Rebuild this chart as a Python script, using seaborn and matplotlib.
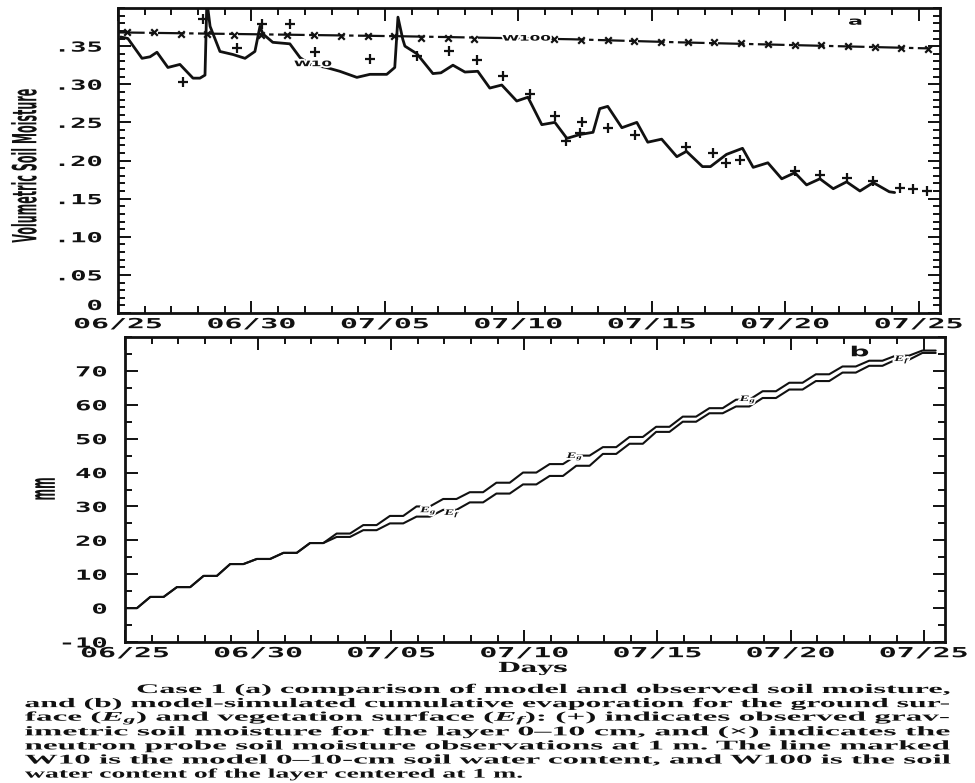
import matplotlib
matplotlib.use("Agg")
import matplotlib.pyplot as plt
import seaborn as sns
from matplotlib.patheffects import AbstractPathEffect
from matplotlib.transforms import Affine2D
from matplotlib.ticker import MultipleLocator

# ---------------- data ----------------
date_ticks = [0, 5, 10, 15, 20, 25, 30]
date_labels = ["06/25", "06/30", "07/05", "07/10", "07/15", "07/20", "07/25"]
sm_ticks = [0.0, 0.05, 0.10, 0.15, 0.20, 0.25, 0.30, 0.35]
sm_labels = ["0", ".05", ".10", ".15", ".20", ".25", ".30", ".35"]
mm_ticks = [-10, 0, 10, 20, 30, 40, 50, 60, 70]
mm_labels = ["-10", "0", "10", "20", "30", "40", "50", "60", "70"]

# model W10 (0-10 cm) volumetric soil moisture
w10_day = [0.1, 0.37, 0.9, 1.2, 1.46, 1.87, 2.32, 2.81, 3.07, 3.26, 3.33, 3.45, 3.82, 4.31, 4.76,
           5.13, 5.32, 5.43, 5.8, 6.44, 6.82, 7.2, 7.8, 8.31, 8.95, 9.44, 10.07, 10.37, 10.49, 10.67,
           10.75, 11.2, 11.8, 12.1, 12.55, 13.0, 13.48, 13.93, 14.38, 14.94, 15.36, 15.88, 16.37, 16.82, 17.3,
           17.8, 18.05, 18.35, 18.88, 19.44, 19.85, 20.37, 20.94, 21.3, 21.9, 22.2, 22.8, 23.4, 23.8, 24.35,
           24.87, 25.36, 25.8, 26.3, 26.8, 27.3, 27.8, 28.3, 28.9, 29.1]
w10_val = [0.362, 0.360, 0.334, 0.336, 0.342, 0.322, 0.326, 0.308, 0.308, 0.312, 0.410, 0.376, 0.343, 0.339, 0.334,
           0.343, 0.376, 0.366, 0.355, 0.353, 0.335, 0.326, 0.322, 0.317, 0.309, 0.313, 0.313, 0.322, 0.388, 0.359,
           0.350, 0.340, 0.314, 0.315, 0.325, 0.316, 0.317, 0.295, 0.299, 0.278, 0.283, 0.247, 0.250, 0.229, 0.234,
           0.237, 0.268, 0.271, 0.243, 0.250, 0.224, 0.228, 0.205, 0.212, 0.192, 0.192, 0.208, 0.216, 0.191, 0.197,
           0.176, 0.184, 0.168, 0.176, 0.163, 0.172, 0.160, 0.171, 0.159, 0.158]

# model W100 (layer at 1 m)
w100_day = [0.0, 10.5, 17.0, 21.0, 30.4]
w100_val = [0.368, 0.363, 0.359, 0.355, 0.347]

# observed gravimetric 0-10 cm (+)
obs10_day = [2.43, 3.18, 4.46, 5.39, 6.44, 7.38, 9.44, 11.2, 12.4, 13.45, 14.42, 15.43, 16.37, 16.8, 17.3,
             17.38, 18.35, 19.36, 21.3, 22.3, 22.8, 23.3, 25.36, 26.3, 27.3, 28.3, 29.3, 29.8, 30.3]
obs10_val = [0.303, 0.386, 0.347, 0.379, 0.379, 0.342, 0.333, 0.337, 0.343, 0.332, 0.311, 0.287, 0.258, 0.225, 0.236,
             0.250, 0.242, 0.233, 0.218, 0.210, 0.197, 0.201, 0.186, 0.181, 0.177, 0.173, 0.164, 0.162, 0.160]

# neutron probe at 1 m (x)
obs100_day = [0.35, 1.35, 2.35, 3.35, 4.35, 5.35, 6.35, 7.35, 8.35, 9.35, 10.35, 11.35, 12.35, 13.35,
              16.35, 17.35, 18.35, 19.35, 20.35, 21.35, 22.35, 23.35, 24.35, 25.35, 26.35, 27.35, 28.35, 29.35, 30.35]
obs100_val = [0.368, 0.368, 0.366, 0.366, 0.364, 0.364, 0.364, 0.364, 0.363, 0.363, 0.363, 0.361, 0.361, 0.360,
              0.359, 0.358, 0.358, 0.357, 0.356, 0.356, 0.355, 0.354, 0.353, 0.352, 0.351, 0.350, 0.349, 0.347, 0.346]

# cumulative evaporation (mm)
evap_day = [0.0, 0.45, 0.95, 1.45, 1.95, 2.45, 2.95, 3.45, 3.95, 4.45, 4.95, 5.45, 5.95, 6.45, 6.95, 7.45,
            7.95, 8.45, 8.95, 9.45, 9.95, 10.45, 10.95, 11.45, 11.95, 12.45, 12.95, 13.45, 13.95, 14.45,
            14.95, 15.45, 15.95, 16.45, 16.95, 17.45, 17.95, 18.45, 18.95, 19.45, 19.95, 20.45, 20.95,
            21.45, 21.95, 22.45, 22.95, 23.45, 23.95, 24.45, 24.95, 25.45, 25.95, 26.45, 26.95, 27.45,
            27.95, 28.45, 28.95, 29.45, 29.95, 30.45]
eg_val = [0.0, 0.0, 3.3, 3.3, 6.2, 6.2, 9.5, 9.5, 13.0, 13.0, 14.5, 14.5, 16.3, 16.3, 19.2, 19.2, 22.0, 22.0,
          24.5, 24.5, 27.2, 27.2, 30.0, 30.0, 32.2, 32.2, 34.2, 34.2, 37.0, 37.0, 40.0, 40.0, 42.5, 42.5,
          45.0, 45.0, 47.5, 47.5, 50.5, 50.5, 53.5, 53.5, 56.5, 56.5, 59.0, 59.0, 61.5, 61.5, 64.0, 64.0,
          66.5, 66.5, 69.0, 69.0, 71.3, 71.3, 73.0, 73.0, 74.5, 74.5, 76.0, 76.0]
ef_val = [0.0, 0.0, 3.3, 3.3, 6.2, 6.2, 9.5, 9.5, 13.0, 13.0, 14.5, 14.5, 16.3, 16.3, 19.2, 19.2, 21.0, 21.0,
          23.0, 23.0, 25.0, 25.0, 27.0, 27.0, 29.0, 29.0, 31.2, 31.2, 33.8, 33.8, 36.5, 36.5, 39.0, 39.0,
          42.0, 42.0, 45.5, 45.5, 48.5, 48.5, 52.0, 52.0, 55.0, 55.0, 57.5, 57.5, 59.5, 59.5, 62.0, 62.0,
          64.5, 64.5, 67.0, 67.0, 69.5, 69.5, 71.5, 71.5, 73.3, 73.3, 75.3, 75.3]

caption_lines = [
    "Case 1 (a) comparison of model and observed soil moisture,",
    "and (b) model-simulated cumulative evaporation for the ground sur-",
    "face ($E_g$) and vegetation surface ($E_f$): (+) indicates observed grav-",
    "imetric soil moisture for the layer 0\u201310 cm, and (\u00d7) indicates the",
    "neutron probe soil moisture observations at 1 m. The line marked",
    "W10 is the model 0\u201310-cm soil water content, and W100 is the soil",
    "water content of the layer centered at 1 m.",
]


# ---------------- helpers ----------------
class Stretch(AbstractPathEffect):
    """Stretch rendered text horizontally (screen space), like the scanned page."""

    def __init__(self, sx, anchor="center", halo=0.0):
        super().__init__()
        self.sx = sx
        self.anchor = anchor
        self.halo = halo

    def draw_path(self, renderer, gc, tpath, affine, rgbFace=None):
        bb = tpath.get_extents(affine)
        if self.anchor == "right":
            a = bb.x1
        elif self.anchor == "left":
            a = bb.x0
        else:
            a = 0.5 * (bb.x0 + bb.x1)
        t = (affine + Affine2D().translate(-a, 0).scale(self.sx, 1.0).translate(a, 0)).frozen()
        if self.halo > 0:
            gc0 = renderer.new_gc()
            gc0.copy_properties(gc)
            gc0.set_foreground("white")
            gc0.set_linewidth(self.halo)
            renderer.draw_path(gc0, tpath, t, (1, 1, 1, 1))
            gc0.restore()
        renderer.draw_path(gc, tpath, t, rgbFace)


sns.set_style("ticks")
plt.rcParams["font.family"] = ["DejaVu Sans"]
plt.rcParams["mathtext.fontset"] = "custom"
plt.rcParams["mathtext.it"] = "Liberation Serif:italic:bold"
plt.rcParams["mathtext.rm"] = "Liberation Serif:bold"

W, H = 975, 783
fig = plt.figure(figsize=(W / 100, H / 100), dpi=100)
fig.patch.set_facecolor("white")

ax1 = fig.add_axes([118 / W, 1 - 313 / H, 822 / W, 305 / H])
ax2 = fig.add_axes([125 / W, 1 - 642 / H, 820 / W, 305 / H])

ink = "#111111"

# ---- panel a ----
sns.lineplot(x=w10_day, y=w10_val, ax=ax1, color=ink, linewidth=2.0, sort=False,
             estimator=None, solid_joinstyle="round", zorder=3)
sns.lineplot(x=w100_day, y=w100_val, ax=ax1, color=ink, linewidth=1.6, sort=False,
             estimator=None, linestyle=(0, (12, 2, 2, 2)), zorder=3)
sns.scatterplot(x=obs10_day, y=obs10_val, ax=ax1, marker="+", s=55, color=ink,
                linewidth=1.6, zorder=4)
sns.scatterplot(x=obs100_day, y=obs100_val, ax=ax1, marker="x", s=22, color=ink,
                linewidth=1.6, zorder=4)
ax1.set_xlim(0, 30.8)
ax1.set_ylim(0, 0.40)
ax1.set_xticks(date_ticks, date_labels)
ax1.xaxis.set_minor_locator(MultipleLocator(1))
ax1.set_yticks(sm_ticks, sm_labels)
ax1.yaxis.set_minor_locator(MultipleLocator(0.01))

# ---- panel b ----
sns.lineplot(x=evap_day, y=eg_val, ax=ax2, color=ink, linewidth=1.5, sort=False,
             estimator=None, solid_joinstyle="round", zorder=3)
sns.lineplot(x=evap_day, y=ef_val, ax=ax2, color=ink, linewidth=1.5, sort=False,
             estimator=None, solid_joinstyle="round", zorder=3)
ax2.set_xlim(0, 30.8)
ax2.set_ylim(-10, 80)
ax2.set_xticks(date_ticks, date_labels)
ax2.xaxis.set_minor_locator(MultipleLocator(1))
ax2.set_yticks(mm_ticks, mm_labels)
ax2.yaxis.set_minor_locator(MultipleLocator(5))

for ax, ypad in ((ax1, 11.5), (ax2, 13.0)):
    for s in ax.spines.values():
        s.set_linewidth(2.0)
        s.set_color(ink)
    ax.tick_params(which="both", direction="in", top=True, right=True, color=ink, width=1.4)
    ax.tick_params(which="major", length=9)
    ax.tick_params(which="minor", length=5)
    ax.tick_params(axis="x", which="major", pad=3)
    ax.tick_params(axis="y", which="major", pad=ypad)
    ax.set_xlabel("")
    ax.set_ylabel("")
    for lab in ax.get_xticklabels():
        lab.set_fontfamily("DejaVu Sans Mono")
        lab.set_fontweight("bold")
        lab.set_fontsize(10)
        lab.set_color(ink)
        lab.set_path_effects([Stretch(2.15, "center")])
    for lab in ax.get_yticklabels():
        lab.set_fontfamily("DejaVu Sans Mono")
        lab.set_fontweight("bold")
        lab.set_fontsize(10)
        lab.set_color(ink)
        lab.set_path_effects([Stretch(1.95, "right")])

# the "0" of panel a sits just above the date labels, as in the scan
ax1.get_yticklabels()[0].set_va("bottom")

# in-plot labels
ax1.text(0.897, 0.955, "a", transform=ax1.transAxes, ha="center", va="center",
         fontsize=8, fontweight="bold", color=ink, path_effects=[Stretch(2.0)])
ax2.text(0.896, 0.95, "b", transform=ax2.transAxes, ha="center", va="center",
         fontsize=10, fontweight="bold", color=ink, path_effects=[Stretch(2.0)])
ax1.text(7.3, 0.327, "W10", ha="center", va="center", fontsize=5.5, fontweight="bold",
         color=ink, zorder=5, path_effects=[Stretch(2.0, halo=2.5)])
ax1.text(15.3, 0.3605, "W100", ha="center", va="center", fontsize=5.5, fontweight="bold",
         color=ink, zorder=5, path_effects=[Stretch(2.0, halo=2.5)])
for xd, yv, s in ((11.4, 28.8, "$E_g$"), (16.9, 44.8, "$E_g$"), (23.4, 61.6, "$E_g$"),
                  (29.2, 73.4, "$E_f$"), (12.3, 28.0, "$E_f$")):
    ax2.text(xd, yv, s, ha="center", va="center", fontsize=6, color=ink, zorder=5,
             path_effects=[Stretch(1.8, halo=2.5)])

# axis titles
fig.text(25 / W, 1 - 166 / H, "Volumetric Soil Moisture", rotation=90, ha="center", va="center",
         fontsize=8, fontweight="bold", color=ink, path_effects=[Stretch(3.0)])
fig.text(45 / W, 1 - 489 / H, "mm", rotation=90, ha="center", va="center",
         fontsize=8, fontweight="bold", color=ink, path_effects=[Stretch(3.2)])
fig.text(533 / W, 1 - 668 / H, "Days", ha="center", va="center", fontsize=10,
         fontweight="bold", fontfamily="DejaVu Serif", color=ink, path_effects=[Stretch(1.9)])

# caption
cap_texts = []
for i, line in enumerate(caption_lines):
    x0 = 137 if i == 0 else 25
    t = fig.text(x0 / W, 1 - (690 + 14.1 * i) / H, line, ha="left", va="center",
                 fontsize=9.5, fontweight="bold", fontfamily="Liberation Serif", color=ink)
    cap_texts.append((t, x0, i))

fig.canvas.draw()
rend = fig.canvas.get_renderer()
for t, x0, i in cap_texts:
    w = t.get_window_extent(rend).width
    target = 528 - x0 if i == len(caption_lines) - 1 else 958 - x0
    t.set_path_effects([Stretch(target / w, "left")])

fig.savefig("out.png", dpi=100, facecolor="white")
